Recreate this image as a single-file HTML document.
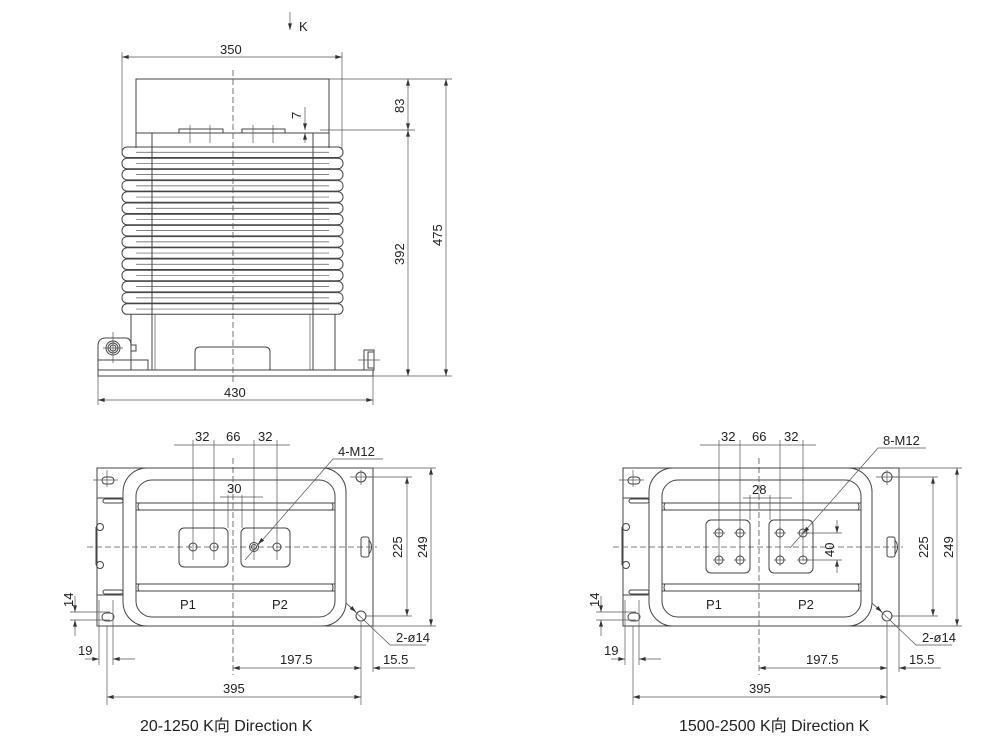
<!DOCTYPE html>
<html><head><meta charset="utf-8"><style>
html,body{margin:0;padding:0;background:#fff;}
svg{display:block;}
text{font-family:"Liberation Sans","Noto Sans CJK SC",sans-serif;fill:#222;font-size:13px;}
.o{fill:none;stroke:#444;stroke-width:1;}
.t{fill:none;stroke:#555;stroke-width:0.7;}
.d{fill:none;stroke:#555;stroke-width:0.7;}
.c{fill:none;stroke:#555;stroke-width:0.8;stroke-dasharray:6,3;}
</style></head><body>
<svg width="1000" height="744" viewBox="0 0 1000 744" xmlns="http://www.w3.org/2000/svg">
<defs>
<marker id="a" viewBox="0 0 10 6" refX="10" refY="3" markerWidth="8" markerHeight="4" orient="auto-start-reverse" markerUnits="userSpaceOnUse"><path d="M0,0 L10,3 L0,6 z" fill="#333"/></marker>
<g id="fin"><rect x="122" y="0" width="221" height="10.5" rx="5" class="o" fill="#fff"/><line x1="136" y1="5.25" x2="329" y2="5.25" class="t"/></g>
</defs>

<!-- ===== TOP (side) VIEW ===== -->
<line x1="290" y1="12" x2="290" y2="30" class="d" marker-end="url(#a)"/>
<text x="299" y="31">K</text>
<line x1="122" y1="57" x2="342" y2="57" class="d" marker-start="url(#a)" marker-end="url(#a)"/>
<text x="220" y="54">350</text>
<line x1="122" y1="52" x2="122" y2="150" class="t"/>
<line x1="342" y1="52" x2="342" y2="150" class="t"/>
<rect x="136" y="79" width="193" height="54" class="o"/>
<rect x="179" y="129" width="44" height="4" class="o"/>
<rect x="242" y="129" width="43" height="4" class="o"/>
<line x1="190" y1="125" x2="190" y2="143" class="t"/><line x1="210" y1="125" x2="210" y2="143" class="t"/>
<line x1="253" y1="125" x2="253" y2="143" class="t"/><line x1="273" y1="125" x2="273" y2="143" class="t"/>
<line x1="136" y1="133" x2="136" y2="148" class="o"/><line x1="329" y1="133" x2="329" y2="148" class="o"/>
<use href="#fin" y="147"/><use href="#fin" y="158.2"/><use href="#fin" y="169.4"/><use href="#fin" y="180.6"/>
<use href="#fin" y="191.8"/><use href="#fin" y="203"/><use href="#fin" y="214.2"/><use href="#fin" y="225.4"/>
<use href="#fin" y="236.6"/><use href="#fin" y="247.8"/><use href="#fin" y="259"/><use href="#fin" y="270.2"/>
<use href="#fin" y="281.4"/><use href="#fin" y="292.6"/><use href="#fin" y="303.8"/>
<line x1="152" y1="133" x2="152" y2="370" class="o"/><line x1="313" y1="133" x2="313" y2="370" class="o"/>
<line x1="131" y1="314" x2="131" y2="370" class="o"/><line x1="335" y1="314" x2="335" y2="370" class="o"/>
<line x1="155" y1="314" x2="155" y2="370" class="t"/><line x1="310" y1="314" x2="310" y2="370" class="t"/>
<path d="M195,370 V352 Q195,347 200,347 H265 Q270,347 270,352 V370" class="o"/>
<rect x="98" y="370" width="275" height="6" class="o"/>
<rect x="98" y="360" width="50" height="10" class="o"/>
<path d="M98,360 V346 Q98,338 106,338 H126 Q131,338 131,346 V360" class="o"/>
<rect x="131" y="345" width="5" height="6" class="o"/>
<circle cx="113" cy="348" r="7" class="o"/><circle cx="113" cy="348" r="5" class="o"/><circle cx="113" cy="348" r="3" class="o"/>
<line x1="103" y1="348" x2="123" y2="348" class="t"/><line x1="113" y1="332" x2="113" y2="363" class="t"/>
<rect x="364" y="350" width="10" height="20" class="o"/><rect x="368" y="352" width="6" height="16" class="o"/>
<line x1="358" y1="360" x2="380" y2="360" class="t"/>
<line x1="233" y1="70" x2="233" y2="385" class="c"/>
<line x1="329" y1="79" x2="452" y2="79" class="t"/>
<line x1="320" y1="130" x2="415" y2="130" class="t"/>
<line x1="373" y1="376" x2="452" y2="376" class="t"/>
<line x1="408" y1="79" x2="408" y2="130" class="d" marker-start="url(#a)" marker-end="url(#a)"/>
<line x1="408" y1="130" x2="408" y2="376" class="d" marker-start="url(#a)" marker-end="url(#a)"/>
<line x1="446" y1="79" x2="446" y2="376" class="d" marker-start="url(#a)" marker-end="url(#a)"/>
<text transform="translate(404,113) rotate(-90)">83</text>
<text transform="translate(404,265) rotate(-90)">392</text>
<text transform="translate(442,246) rotate(-90)">475</text>
<line x1="305" y1="107" x2="305" y2="130" class="d" marker-end="url(#a)"/>
<line x1="305" y1="143" x2="305" y2="133" class="d" marker-end="url(#a)"/>
<text transform="translate(301,119) rotate(-90)">7</text>
<line x1="98" y1="376" x2="98" y2="405" class="t"/><line x1="373" y1="376" x2="373" y2="405" class="t"/>
<line x1="98" y1="400" x2="373" y2="400" class="d" marker-start="url(#a)" marker-end="url(#a)"/>
<text x="224" y="397">430</text>

<g id="bv">
<rect x="97" y="468" width="276" height="158" class="o"/>
<rect x="123" y="468" width="223" height="158" rx="24" class="o"/>
<rect x="136" y="480" width="199" height="137" rx="16" class="o"/>
<path d="M136,503 H335 M136,510 H335 M136,584 H335 M136,591 H335" class="o"/>
<path d="M139,503 Q137,506.5 139,510 M332,503 Q334,506.5 332,510 M139,584 Q137,587.5 139,591 M332,584 Q334,587.5 332,591" class="o"/>
<rect x="102" y="477" width="12" height="7" rx="3.5" class="o"/>
<rect x="102" y="613" width="12" height="8" rx="4" class="o"/>
<line x1="93" y1="480" x2="118" y2="480" class="t"/><line x1="107" y1="470" x2="107" y2="487" class="t"/>
<line x1="97" y1="498" x2="123" y2="498" class="o"/><line x1="97" y1="595" x2="123" y2="595" class="o"/>
<rect x="103" y="499" width="20" height="4" rx="2" class="o"/><rect x="103" y="590" width="20" height="4" rx="2" class="o"/>
<circle cx="100" cy="527" r="3.5" class="o"/><circle cx="100" cy="565" r="3.5" class="o"/>
<path d="M96,527 V565" class="o"/>
<rect x="361" y="537" width="8" height="20" rx="2" class="o"/>
<path d="M369,540 Q374,547 369,554" class="o"/>
<circle cx="361" cy="477" r="5" class="o"/><circle cx="361" cy="616" r="5" class="o"/>
<line x1="350" y1="477" x2="372" y2="477" class="t"/><line x1="361" y1="470" x2="361" y2="485" class="t"/>
<text x="180" y="609">P1</text><text x="272" y="609">P2</text>
<line x1="87" y1="547" x2="377" y2="547" class="c"/>
<line x1="233" y1="458" x2="233" y2="675" class="c"/>
<line x1="174" y1="445" x2="290" y2="445" class="d"/>
<line x1="193" y1="440" x2="193" y2="560" class="t"/><line x1="214" y1="440" x2="214" y2="560" class="t"/>
<line x1="254" y1="440" x2="254" y2="560" class="t"/><line x1="277" y1="440" x2="277" y2="560" class="t"/>
<text x="195" y="441">32</text><text x="226" y="441">66</text><text x="258" y="441">32</text>
<line x1="365" y1="477" x2="412" y2="477" class="t"/><line x1="365" y1="616" x2="412" y2="616" class="t"/>
<line x1="373" y1="468" x2="436" y2="468" class="t"/><line x1="373" y1="626" x2="436" y2="626" class="t"/>
<line x1="407" y1="477" x2="407" y2="616" class="d" marker-start="url(#a)" marker-end="url(#a)"/>
<line x1="431" y1="468" x2="431" y2="626" class="d" marker-start="url(#a)" marker-end="url(#a)"/>
<text transform="translate(402,558) rotate(-90)">225</text>
<text transform="translate(427,558) rotate(-90)">249</text>
<line x1="70" y1="612" x2="110" y2="612" class="t"/><line x1="70" y1="620" x2="110" y2="620" class="t"/>
<line x1="75" y1="596" x2="75" y2="612" class="d" marker-end="url(#a)"/>
<line x1="75" y1="636" x2="75" y2="620" class="d" marker-end="url(#a)"/>
<text transform="translate(73,607) rotate(-90)">14</text>
<line x1="99" y1="600" x2="99" y2="665" class="t"/><line x1="113" y1="600" x2="113" y2="665" class="t"/>
<line x1="85" y1="659" x2="99" y2="659" class="d" marker-end="url(#a)"/>
<line x1="135" y1="659" x2="113" y2="659" class="d" marker-end="url(#a)"/>
<text x="78" y="655">19</text>
<line x1="361" y1="622" x2="361" y2="705" class="t"/><line x1="373" y1="626" x2="373" y2="672" class="t"/>
<line x1="107" y1="626" x2="107" y2="705" class="t"/>
<line x1="233" y1="668" x2="361" y2="668" class="d" marker-start="url(#a)" marker-end="url(#a)"/>
<text x="280" y="664">197.5</text>
<line x1="415" y1="668" x2="373" y2="668" class="d" marker-end="url(#a)"/>
<text x="383" y="664">15.5</text>
<line x1="107" y1="697" x2="361" y2="697" class="d" marker-start="url(#a)" marker-end="url(#a)"/>
<text x="223" y="693">395</text>
<path d="M346,603 L390,645 H426" class="d"/>
<line x1="346" y1="603" x2="356" y2="612" class="d" marker-end="url(#a)"/>
<text x="396" y="642">2-ø14</text>
</g>

<rect x="179" y="528" width="49" height="39" rx="5" class="o"/>
<rect x="241" y="528" width="49" height="39" rx="5" class="o"/>
<circle cx="193" cy="547" r="4" class="o"/><circle cx="214" cy="547" r="4" class="o"/>
<circle cx="254" cy="547" r="4.5" class="o"/><circle cx="254" cy="547" r="2.5" class="o"/><circle cx="277" cy="547" r="4" class="o"/>
<line x1="220" y1="497" x2="263" y2="497" class="d"/>
<line x1="228" y1="495" x2="228" y2="528" class="t"/><line x1="242" y1="495" x2="242" y2="528" class="t"/>
<text x="227" y="493">30</text>
<path d="M245,560 L333,459 H383" class="d"/>
<line x1="262" y1="540" x2="258" y2="544" class="d" marker-end="url(#a)"/>
<text x="338" y="456">4-M12</text>
<text x="140" y="731" style="font-size:16px">20-1250 K向 Direction K</text>

<use href="#bv" x="526"/>
<rect x="706" y="520" width="44" height="53" rx="5" class="o"/>
<rect x="769" y="520" width="44" height="53" rx="5" class="o"/>
<g class="o">
<circle cx="719" cy="533" r="4"/><circle cx="740" cy="533" r="4"/><circle cx="719" cy="560" r="4"/><circle cx="740" cy="560" r="4"/>
<circle cx="780" cy="533" r="4"/><circle cx="803" cy="533" r="4"/><circle cx="780" cy="560" r="4"/><circle cx="803" cy="560" r="4"/>
</g>
<path d="M713,533 H725 M734,533 H746 M713,560 H725 M734,560 H746 M774,533 H786 M797,533 H809 M774,560 H786 M797,560 H809 M719,527 V539 M740,527 V539 M719,554 V566 M740,554 V566 M780,527 V539 M780,554 V566" class="t"/>
<line x1="743" y1="498" x2="792" y2="498" class="d"/>
<line x1="750" y1="495" x2="750" y2="520" class="t"/><line x1="770" y1="495" x2="770" y2="520" class="t"/>
<text x="752" y="494">28</text>
<line x1="803" y1="533" x2="842" y2="533" class="t"/><line x1="803" y1="560" x2="842" y2="560" class="t"/>
<line x1="837" y1="520" x2="837" y2="533" class="d" marker-end="url(#a)"/>
<line x1="837" y1="573" x2="837" y2="560" class="d" marker-end="url(#a)"/>
<text transform="translate(834,557) rotate(-90)">40</text>
<path d="M790,548 L878,448 H926" class="d"/>
<line x1="808" y1="528" x2="803" y2="533" class="d" marker-end="url(#a)"/>
<text x="883" y="445">8-M12</text>
<text x="679" y="731" style="font-size:16px">1500-2500 K向 Direction K</text>
</svg>
</body></html>
